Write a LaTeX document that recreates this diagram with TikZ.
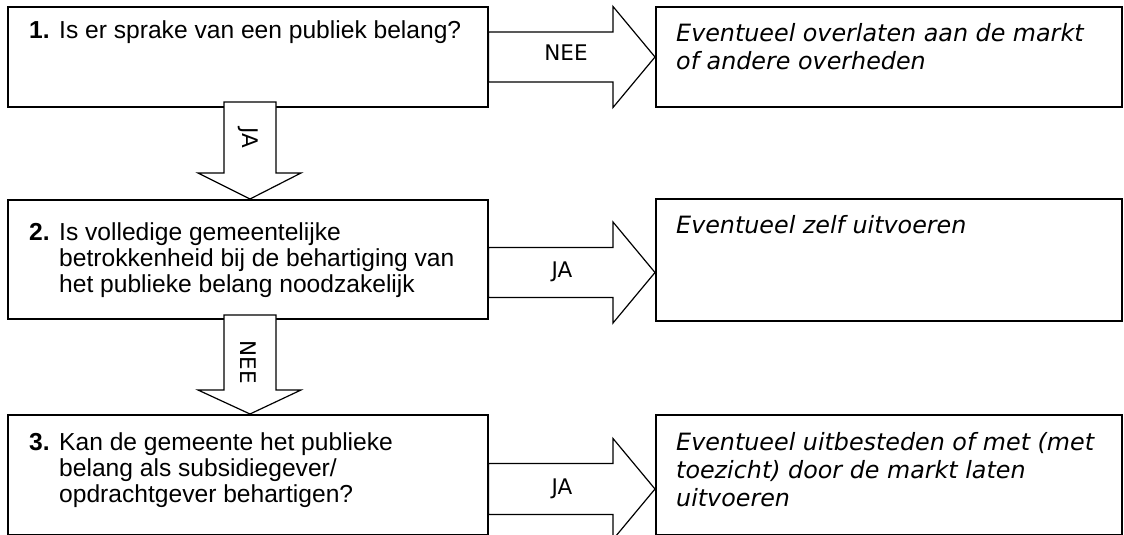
\documentclass[tikz,border=0pt]{standalone}
\usepackage{fontspec}
\setmainfont{Liberation Sans}
\newfontfamily\vfont{DejaVu Sans}
\usetikzlibrary{calc}
\begin{document}
\begin{tikzpicture}[x=1pt,y=-1pt,
  box/.style={draw=black, line width=1.6pt, fill=white, rectangle, inner sep=0pt, anchor=north west},
  barrow/.style={draw=black, line width=1.2pt, fill=white, line join=miter},
  lt/.style={anchor=base west, inner sep=0pt, font=\fontsize{24.6}{26}\selectfont},
  rt/.style={anchor=base west, inner sep=0pt, font=\vfont\itshape\fontsize{23.8}{28}\selectfont},
  lab/.style={inner sep=0pt, font=\vfont\fontsize{21.5}{24}\selectfont}]
\clip (0,0) rectangle (1124,535);
\fill[white] (0,0) rectangle (1124,535);
% left question boxes
\node[box, minimum width=480pt, minimum height=100pt] (q1) at (7,6) {};
\node[box, minimum width=480pt, minimum height=119pt] (q2) at (7,199) {};
\node[box, minimum width=480pt, minimum height=120pt] (q3) at (7,414) {};
% right answer boxes
\node[box, minimum width=466pt, minimum height=100pt] (r1) at (655,6) {};
\node[box, minimum width=466pt, minimum height=122pt] (r2) at (655,198) {};
\node[box, minimum width=466pt, minimum height=120pt] (r3) at (655,414) {};
% texts in the left boxes
\node[lt] (t1) at (29,39) {\begin{tabular}[t]{@{}l@{}l@{}}\makebox[30pt][l]{\textbf{1.}} & Is er sprake van een publiek belang?\end{tabular}};
\node[lt] (t2) at (29,240) {\begin{tabular}[t]{@{}l@{}l@{}}\makebox[30pt][l]{\textbf{2.}} & Is volledige gemeentelijke\\ & betrokkenheid bij de behartiging van\\ & het publieke belang noodzakelijk\end{tabular}};
\node[lt] (t3) at (29,450) {\begin{tabular}[t]{@{}l@{}l@{}}\makebox[30pt][l]{\textbf{3.}} & Kan de gemeente het publieke\\ & belang als subsidiegever/\\ & opdrachtgever behartigen?\end{tabular}};
% texts in the right boxes
\node[rt] (u1) at (676,42) {\begin{tabular}[t]{@{}l@{}}Eventueel overlaten aan de markt\\ of andere overheden\end{tabular}};
\node[rt] (u2) at (676,233) {Eventueel zelf uitvoeren};
\node[rt] (u3) at (676,450) {\begin{tabular}[t]{@{}l@{}}Eventueel uitbesteden of met (met\\ toezicht) door de markt laten\\ uitvoeren\end{tabular}};
% horizontal block arrows
\draw[barrow] (q1.east |- 0,32) -- (613,32) -- (613,6.5) -- (r1.west |- 0,57) -- (613,107.5) -- (613,82) -- (q1.east |- 0,82) -- cycle;
\draw[barrow] (q2.east |- 0,247.5) -- (613,247.5) -- (613,222) -- (r2.west |- 0,272.5) -- (613,323) -- (613,297.5) -- (q2.east |- 0,297.5) -- cycle;
\draw[barrow] (q3.east |- 0,463.5) -- (613,463.5) -- (613,438.5) -- (r3.west |- 0,489) -- (613,539.5) -- (613,514.5) -- (q3.east |- 0,514.5) -- cycle;
% vertical block arrows
\draw[barrow] (224,102) -- (276,102) -- (276,173) -- (301,173) -- (250,0 |- q2.north) -- (198,173) -- (224,173) -- cycle;
\draw[barrow] (224,315) -- (276,315) -- (276,390) -- (301,390) -- (250,0 |- q3.north) -- (198,390) -- (224,390) -- cycle;
% arrow labels
\node[lab] (l1) at (566,53) {NEE};
\node[lab] (l2) at (562,272) {JA};
\node[lab] (l3) at (562,489) {JA};
\node[lab, rotate=-90] (l4) at (248,138) {JA};
\node[lab, rotate=-90] (l5) at (248,362) {NEE};
\end{tikzpicture}
\end{document}
